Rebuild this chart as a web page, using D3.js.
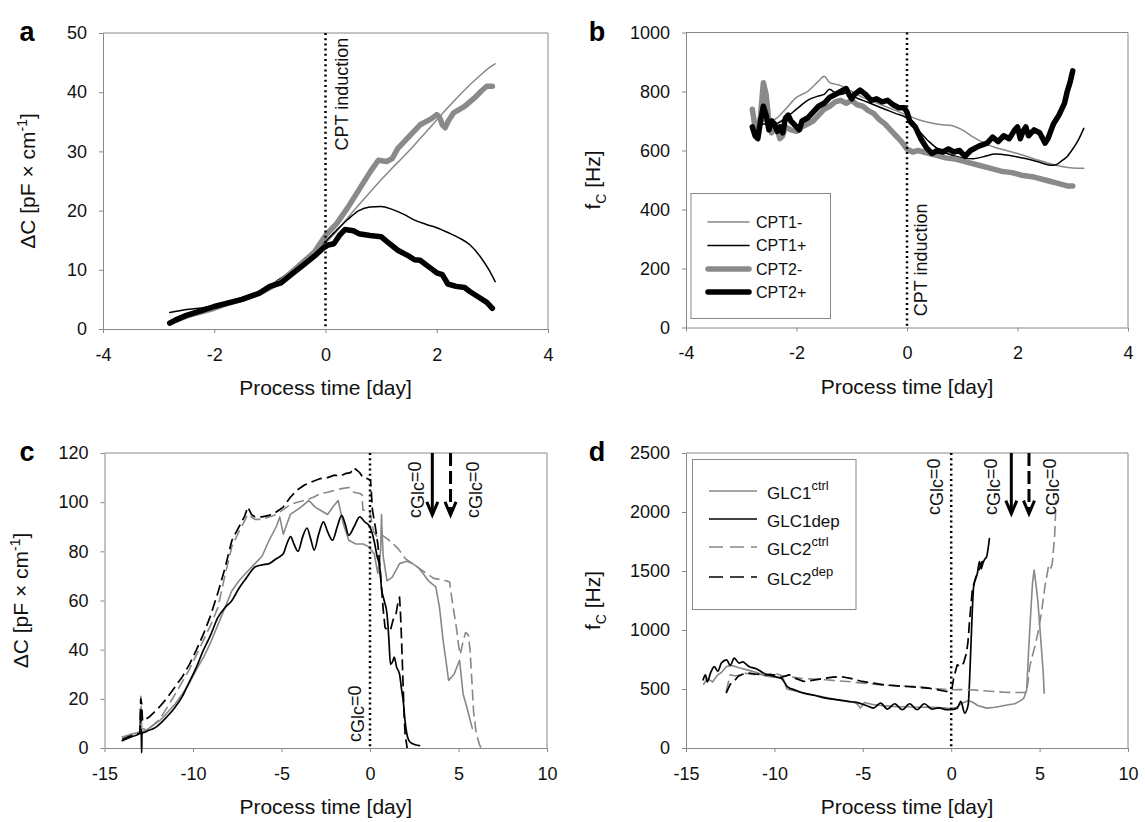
<!DOCTYPE html>
<html>
<head>
<meta charset="utf-8">
<script src="https://cdn.jsdelivr.net/npm/d3@7"></script>
<style>
  body { margin: 0; background: #fff; }
  svg { font-family: "Liberation Sans", Arial, sans-serif; }
  .axis path, .axis line { stroke: #888; }
  .axis text { font-size: 18px; fill: #111; }
</style>
</head>
<body>
<svg id="fig" width="1145" height="822"></svg>
<script>
// ---- panel a : delta C vs process time (CPT runs) ----
const cpt1MinusA = [[-2.8,1.0],[-2.6,1.8],[-2.4,2.6],[-2.2,3.2],[-2.0,3.8],[-1.8,4.3],[-1.6,4.9],[-1.4,5.6],[-1.2,6.4],[-1.0,7.3],[-0.8,8.4],[-0.6,9.6],[-0.4,11.0],[-0.2,12.6],[0,14.5],[0.2,16.5],[0.4,18.8],[0.6,21.0],[0.8,23.1],[1.0,25.2],[1.2,27.2],[1.4,29.1],[1.6,31.1],[1.8,33.2],[2.0,35.3],[2.2,37.4],[2.4,39.4],[2.6,41.3],[2.8,43.0],[2.95,44.2],[3.05,44.8]];
const cpt1PlusA = [[-2.8,2.8],[-2.5,3.3],[-2.2,3.6],[-2.0,4.0],[-1.7,4.7],[-1.4,5.5],[-1.2,6.3],[-1.0,7.3],[-0.8,8.6],[-0.6,9.9],[-0.4,11.3],[-0.2,12.9],[0,14.8],[0.2,16.7],[0.4,18.5],[0.6,20.0],[0.8,20.6],[1.0,20.7],[1.2,20.2],[1.4,19.4],[1.6,18.4],[1.8,17.7],[2.0,17.1],[2.2,16.3],[2.4,15.4],[2.6,14.2],[2.8,12.0],[2.95,9.8],[3.05,8.0]];
const cpt2MinusA = [[-2.8,1.0],[-2.5,2.2],[-2.2,3.0],[-2.0,3.5],[-1.8,4.2],[-1.5,5.0],[-1.2,6.0],[-1.0,7.0],[-0.8,8.0],[-0.5,10.5],[-0.2,13.0],[0,15.8],[0.2,17.8],[0.4,20.5],[0.6,23.5],[0.8,26.5],[0.95,28.5],[1.1,28.3],[1.2,28.8],[1.3,30.5],[1.5,32.5],[1.7,34.5],[1.9,35.5],[2.0,36.2],[2.05,35.8],[2.1,34.5],[2.15,34.0],[2.2,35.0],[2.3,36.5],[2.5,37.6],[2.7,39.2],[2.8,40.2],[2.9,41.0],[3.0,41.0]];
const cpt2PlusA = [[-2.8,1.0],[-2.7,1.5],[-2.5,2.3],[-2.2,3.2],[-2.0,3.8],[-1.8,4.3],[-1.5,5.0],[-1.2,6.0],[-1.0,7.2],[-0.8,7.8],[-0.6,9.3],[-0.4,10.8],[-0.2,12.3],[-0.05,13.6],[0.05,14.2],[0.15,14.4],[0.25,15.8],[0.35,16.8],[0.5,16.6],[0.6,16.1],[0.8,15.8],[1.0,15.6],[1.1,14.8],[1.3,13.3],[1.5,12.3],[1.6,11.7],[1.7,11.6],[1.9,10.2],[2.0,9.5],[2.1,9.2],[2.2,7.6],[2.35,7.2],[2.5,7.0],[2.6,6.3],[2.75,5.4],[2.9,4.5],[3.0,3.5]];

// ---- panel b : fc vs process time (CPT runs) ----
const cpt1MinusB = [[-2.8,700],[-2.6,700],[-2.4,705],[-2.2,740],[-2.0,780],[-1.8,800],[-1.6,835],[-1.5,852],[-1.4,830],[-1.3,825],[-1.2,820],[-1.0,800],[-0.8,780],[-0.6,765],[-0.4,750],[-0.2,735],[0,720],[0.2,705],[0.4,695],[0.6,688],[0.8,685],[1.0,670],[1.2,645],[1.4,625],[1.6,610],[1.8,600],[2.0,590],[2.2,578],[2.4,566],[2.6,555],[2.8,546],[3.0,541],[3.2,540]];
const cpt1PlusB = [[-2.8,680],[-2.6,690],[-2.4,690],[-2.2,710],[-2.0,740],[-1.8,770],[-1.6,785],[-1.5,790],[-1.4,808],[-1.3,795],[-1.2,790],[-1.1,795],[-1.0,785],[-0.8,770],[-0.6,755],[-0.4,740],[-0.2,725],[0,710],[0.2,670],[0.4,630],[0.6,600],[0.8,585],[1.0,575],[1.2,572],[1.4,580],[1.6,588],[1.8,585],[2.0,578],[2.2,570],[2.4,560],[2.6,550],[2.7,552],[2.8,565],[2.9,580],[3.0,605],[3.1,635],[3.2,675]];
const cpt2MinusB = [[-2.8,740],[-2.75,680],[-2.7,660],[-2.65,720],[-2.6,830],[-2.55,790],[-2.5,700],[-2.45,660],[-2.4,690],[-2.35,670],[-2.3,640],[-2.25,650],[-2.2,680],[-2.1,670],[-2.0,665],[-1.9,680],[-1.8,690],[-1.7,700],[-1.6,720],[-1.5,740],[-1.4,750],[-1.3,765],[-1.2,770],[-1.1,760],[-1.0,770],[-0.9,755],[-0.8,750],[-0.7,735],[-0.6,725],[-0.5,705],[-0.4,690],[-0.3,670],[-0.2,650],[-0.1,630],[0,605],[0.1,595],[0.2,600],[0.3,595],[0.5,585],[0.7,575],[0.9,570],[1.1,560],[1.3,550],[1.5,540],[1.7,530],[1.9,525],[2.1,515],[2.3,510],[2.5,500],[2.6,495],[2.7,490],[2.8,485],[2.9,480],[3.0,480]];
const cpt2PlusB = [[-2.8,680],[-2.75,650],[-2.7,640],[-2.65,700],[-2.6,750],[-2.55,720],[-2.5,670],[-2.45,700],[-2.4,690],[-2.35,665],[-2.3,680],[-2.25,660],[-2.2,710],[-2.15,720],[-2.1,700],[-2.0,680],[-1.95,670],[-1.9,700],[-1.8,710],[-1.7,730],[-1.6,750],[-1.5,760],[-1.4,780],[-1.3,790],[-1.2,800],[-1.1,810],[-1.05,790],[-1.0,775],[-0.95,790],[-0.85,805],[-0.75,790],[-0.65,770],[-0.55,775],[-0.45,765],[-0.35,770],[-0.25,755],[-0.15,745],[-0.05,745],[0,730],[0.05,700],[0.15,680],[0.25,640],[0.35,610],[0.45,590],[0.55,600],[0.65,595],[0.75,605],[0.85,595],[0.95,600],[1.05,580],[1.15,600],[1.3,615],[1.45,625],[1.55,645],[1.65,630],[1.75,650],[1.85,640],[1.95,670],[2.0,680],[2.05,640],[2.1,665],[2.15,680],[2.2,650],[2.3,670],[2.4,660],[2.5,625],[2.55,640],[2.65,690],[2.75,720],[2.85,760],[2.9,800],[2.95,830],[3.0,870]];

// ---- panel c : delta C vs process time (glucose runs) ----
const glc1CtrlC = [[-14,4.5],[-13.3,6],[-12.7,7],[-12.3,9],[-11.9,11],[-11.5,14],[-11,18],[-10.6,22],[-10.2,26.5],[-9.8,32],[-9.4,37],[-9.0,43],[-8.6,50],[-8.2,57],[-7.8,64],[-7.4,68],[-6.9,72],[-6.5,75],[-6.1,78],[-5.7,84.5],[-5.3,90],[-5.1,94],[-4.9,87],[-4.7,91],[-4.5,95],[-3.9,98],[-3.45,100.7],[-3.1,98],[-2.8,96.7],[-2.4,95],[-2.1,98],[-1.8,100.7],[-1.5,91],[-1.2,84.5],[-0.8,83],[-0.38,83],[-0.07,81.8],[0.24,79],[0.44,71],[0.6,80],[0.65,95],[0.7,85],[0.75,77.7],[0.96,68],[1.26,69.5],[1.67,75],[2.08,76],[2.4,75],[2.7,73.6],[3.0,71],[3.3,68],[3.72,65.5],[3.93,57],[4.13,43.8],[4.3,35],[4.44,27.5],[4.75,30],[5.06,35.7],[5.26,22],[5.47,16.7],[5.67,11],[5.78,8]];
const glc1DepC = [[-14,3],[-13.5,4.5],[-13.0,6],[-12.95,16],[-12.92,5],[-12.9,-2],[-12.88,6],[-12.7,6.5],[-12.5,7.2],[-12.2,8],[-12,9],[-11.5,12.5],[-11,16.7],[-10.6,21],[-10.2,27],[-9.8,33],[-9.4,40],[-9.0,46],[-8.6,53],[-8.2,57],[-7.8,60],[-7.4,65],[-7.0,69],[-6.5,73.6],[-6.1,74.5],[-5.7,75],[-5.3,77],[-4.9,79],[-4.7,83],[-4.48,86],[-4.3,83],[-4.07,80],[-3.8,86],[-3.56,89.5],[-3.35,85],[-3.15,80.5],[-2.9,87],[-2.63,92],[-2.4,88],[-2.12,84.5],[-1.85,90],[-1.6,94.6],[-1.4,91],[-1.2,86.5],[-0.9,90],[-0.58,94],[-0.3,92],[-0.07,90.6],[0.1,88],[0.24,84],[0.4,78],[0.55,73.6],[0.65,65],[0.8,60],[0.96,54.6],[1.06,45],[1.16,34],[1.27,35],[1.37,37],[1.5,33],[1.67,30],[1.78,24],[1.88,19],[1.98,11],[2.08,5.8],[2.2,3],[2.39,1.8],[2.6,1.2],[2.8,1]];
const glc2CtrlC = [[-14,3.8],[-13.5,5.5],[-13,6.5],[-12.95,21],[-12.9,8],[-12.7,7.5],[-12.3,9],[-11.9,11.5],[-11.5,16],[-11,22],[-10.6,27],[-10.2,32],[-9.8,38],[-9.4,44],[-9.0,50],[-8.6,57],[-8.2,70],[-7.8,82],[-7.4,88],[-6.9,95],[-6.5,93],[-6.1,93],[-5.7,94],[-5.3,95],[-4.9,97],[-4.5,99],[-4.1,100],[-3.7,100.7],[-3.2,102],[-2.8,103.5],[-2.4,104],[-2.0,104.8],[-1.6,105.5],[-1.2,106],[-0.9,104],[-0.58,103.5],[-0.45,103],[-0.4,96.7],[-0.2,97],[0.0,96],[0.1,92],[0.2,88],[0.4,86],[0.6,87],[0.8,86],[1.0,85],[1.3,83],[1.6,81],[2.0,77],[2.4,75],[2.8,73],[3.2,71],[3.6,69],[4.0,68.5],[4.3,68],[4.5,67.5],[4.6,62],[4.75,55],[4.9,48],[5.0,42],[5.1,38],[5.25,43],[5.4,47],[5.55,46],[5.65,40],[5.75,28],[5.85,15],[6.0,6],[6.2,1],[6.3,0]];
const glc2DepC = [[-14,3.4],[-13.5,5],[-13.0,6],[-12.95,20],[-12.9,18],[-12.85,11],[-12.5,12.5],[-12.2,14.5],[-11.9,16.7],[-11.5,20],[-11,25],[-10.6,29],[-10.2,34],[-9.8,40],[-9.4,46.5],[-9.0,54],[-8.6,63],[-8.2,73],[-7.8,84.5],[-7.4,90],[-7.1,94],[-6.9,98],[-6.7,95],[-6.5,94],[-6.1,94],[-5.7,94.6],[-5.3,96],[-4.9,98],[-4.5,102],[-4.1,105],[-3.7,107],[-3.2,108.5],[-2.8,109.6],[-2.4,110],[-2.0,111],[-1.7,110.5],[-1.4,111.6],[-1.1,112],[-0.9,114],[-0.75,113],[-0.58,112],[-0.4,110],[-0.17,109.6],[0.03,109],[0.14,96.7],[0.3,90],[0.44,83],[0.55,75],[0.65,65],[0.75,56],[0.85,49],[1.0,48],[1.16,48],[1.3,52],[1.47,54.6],[1.6,60],[1.67,61.4],[1.72,55],[1.77,46.5],[1.85,30],[1.92,15],[1.98,5.8],[2.1,0]];

// ---- panel d : fc vs process time (glucose runs) ----
const glc1CtrlD = [[-14,540],[-13.8,590],[-13.5,560],[-13.2,620],[-13,640],[-12.7,690],[-12.4,700],[-12,680],[-11.5,660],[-11,640],[-10.5,610],[-10,600],[-9.5,590],[-9.3,500],[-9,490],[-8.5,470],[-8,455],[-7.5,440],[-7,425],[-6.5,410],[-6,400],[-5.5,385],[-5.3,370],[-5.14,338],[-4.9,385],[-4.5,370],[-4,360],[-3.5,355],[-3,350],[-2.5,350],[-2,345],[-1.5,345],[-1,345],[-0.5,340],[0,335],[0.3,345],[0.6,380],[0.96,400],[1.2,390],[1.5,360],[2.0,338],[2.5,345],[3.0,360],[3.24,366],[3.6,375],[3.86,395],[4.1,420],[4.27,493],[4.38,830],[4.5,1150],[4.6,1400],[4.69,1508],[4.8,1380],[4.9,1250],[5.0,1050],[5.1,850],[5.2,650],[5.26,465]];
const glc1DepD = [[-14.03,578],[-13.9,620],[-13.8,560],[-13.6,640],[-13.4,690],[-13.2,650],[-13.0,720],[-12.7,747],[-12.5,700],[-12.27,761],[-12.0,720],[-11.8,730],[-11.44,690],[-11.0,670],[-10.6,634],[-10.3,620],[-10,606],[-9.6,590],[-9.27,521],[-8.8,490],[-8.34,465],[-7.7,445],[-7.1,423],[-6.5,410],[-5.86,395],[-5.3,385],[-4.8,360],[-4.4,338],[-4,380],[-3.6,330],[-3.2,375],[-2.76,324],[-2.35,375],[-1.93,324],[-1.52,375],[-1.1,330],[-0.7,340],[-0.3,325],[-0.07,324],[0.34,338],[0.55,395],[0.76,296],[0.96,366],[1.07,690],[1.15,1000],[1.27,1367],[1.48,1480],[1.6,1580],[1.7,1520],[1.79,1564],[1.9,1600],[2.0,1620],[2.16,1775]];
const glc2CtrlD = [[-12.73,480],[-12.5,620],[-12.2,610],[-11.65,634],[-11,620],[-10.5,625],[-10,634],[-9.6,615],[-9.17,606],[-8.5,590],[-7.8,585],[-7.1,578],[-6.5,570],[-5.86,564],[-5,550],[-4.0,535],[-3,528],[-1.93,521],[-1,505],[-0.07,493],[0.5,495],[1.17,493],[1.8,485],[2.41,479],[3.0,473],[3.65,470],[4.27,470],[4.44,690],[4.58,775],[4.75,870],[4.9,972],[5.1,1141],[5.3,1367],[5.5,1536],[5.6,1510],[5.72,1564],[5.85,1800],[5.93,2100]];
const glc2DepD = [[-12.73,465],[-12.5,540],[-12.3,560],[-12.06,606],[-11.8,625],[-11.44,634],[-11,625],[-10.5,620],[-10,620],[-9.6,600],[-9.17,620],[-8.8,590],[-8.34,564],[-7.8,575],[-7.1,592],[-6.7,600],[-6.27,606],[-5.7,590],[-5.03,564],[-4.4,550],[-3.8,535],[-3.2,528],[-2.55,521],[-1.9,515],[-1.31,507],[-0.8,495],[-0.28,479],[0.03,493],[0.14,592],[0.34,705],[0.55,690],[0.7,720],[0.86,803],[0.95,900],[1.05,1100],[1.2,1350],[1.4,1450],[1.6,1520],[1.75,1580],[1.9,1564]];

// tick values
const xTicksCpt = [-4, -2, 0, 2, 4];
const xTicksGlc = [-15, -10, -5, 0, 5, 10];
const yTicksA = [0, 10, 20, 30, 40, 50];
const yTicksB = [0, 200, 400, 600, 800, 1000];
const yTicksC = [0, 20, 40, 60, 80, 100, 120];
const yTicksD = [0, 500, 1000, 1500, 2000, 2500];

// legend names
const cptNames = ['CPT1-', 'CPT1+', 'CPT2-', 'CPT2+'];
const glcNames = [['GLC1', 'ctrl'], ['GLC1dep', ''], ['GLC2', 'ctrl'], ['GLC2', 'dep']];

// glucose depletion markers: text x (day), arrow x (day)
const glcTextC = [-0.89, 2.5, 5.78];
const glcTextD = [-1.0, 2.25, 5.55];
const glcArrowsC = [3.52, 4.55];
const glcArrowsD = [3.4, 4.4];

const GRAY = '#888', BLACK = '#000';
const cptStyles = [
  {color: GRAY, width: 1.5, smooth: true},
  {color: BLACK, width: 1.5, smooth: true},
  {color: '#8a8a8a', width: 5.5},
  {color: BLACK, width: 5.5}
];
const glcStyles = [
  {color: GRAY, width: 1.6, dash: null},
  {color: BLACK, width: 1.7, dash: null, smooth: true},
  {color: GRAY, width: 1.6, dash: '11,5'},
  {color: BLACK, width: 1.7, dash: '11,5'}
];

const svg = d3.select('#fig');

function drawPanel(cfg) {
  const x = d3.scaleLinear().domain(cfg.xDomain).range([cfg.left, cfg.right]);
  const y = d3.scaleLinear().domain(cfg.yDomain).range([cfg.bottom, cfg.top]);
  const g = svg.append('g');

  // top + right frame
  g.append('path')
      .attr('d', `M${cfg.left},${cfg.top}H${cfg.right}V${cfg.bottom}`)
      .attr('fill', 'none').attr('stroke', '#888');

  g.append('g').attr('class', 'axis')
      .attr('transform', `translate(${cfg.left},0)`)
      .call(d3.axisLeft(y).tickValues(cfg.yTicks).tickFormat(d => String(d))
        .tickSizeInner(4).tickSizeOuter(0).tickPadding(12));

  g.append('g').attr('class', 'axis')
      .attr('transform', `translate(0,${cfg.bottom})`)
      .call(d3.axisBottom(x).tickValues(cfg.xTicks).tickFormat(d => String(d))
        .tickSizeInner(4).tickSizeOuter(0).tickPadding(15));

  cfg.series.forEach((s, i) => {
    const st = cfg.styles[i];
    const line = d3.line().x(d => x(d[0])).y(d => y(d[1]))
        .curve(st.smooth ? d3.curveMonotoneX : d3.curveLinear);
    g.append('path')
        .datum(s)
        .attr('d', line)
        .attr('fill', 'none')
        .attr('stroke', st.color)
        .attr('stroke-width', st.width)
        .attr('stroke-linejoin', 'round')
        .attr('stroke-linecap', st.dash ? 'butt' : 'round')
        .attr('stroke-dasharray', st.dash);
  });

  // dotted line at day 0
  g.append('line')
      .attr('x1', x(0)).attr('x2', x(0))
      .attr('y1', cfg.top).attr('y2', cfg.bottom)
      .attr('stroke', BLACK).attr('stroke-width', 2.5)
      .attr('stroke-dasharray', '2,3.2');

  // panel letter
  svg.append('text')
      .attr('x', cfg.letterX).attr('y', cfg.top - 1)
      .attr('text-anchor', 'middle')
      .attr('dominant-baseline', 'central')
      .style('font-size', '27px').style('font-weight', 'bold')
      .text(cfg.letter);

  // x title
  svg.append('text')
      .attr('x', (cfg.left + cfg.right) / 2).attr('y', cfg.bottom + 66)
      .attr('text-anchor', 'middle')
      .style('font-size', '21px').attr('fill', '#111')
      .text('Process time [day]');

  // y title
  const yt = svg.append('text')
      .attr('transform', `translate(${cfg.left - cfg.yTitleOffset},${(cfg.top + cfg.bottom) / 2}) rotate(-90)`)
      .attr('text-anchor', 'middle')
      .style('font-size', '21px').attr('fill', '#111');
  cfg.yTitle(yt);

  return {x, y, g};
}

function deltaCTitle(t) {
  t.append('tspan').text('\u0394C [pF \u00d7 cm');
  t.append('tspan').attr('dy', -8).style('font-size', '14px').text('-1');
  t.append('tspan').attr('dy', 8).text(']');
}
function fcTitle(t) {
  t.append('tspan').text('f');
  t.append('tspan').attr('dy', 6).style('font-size', '14px').text('C');
  t.append('tspan').attr('dy', -6).text(' [Hz]');
}

function cptText(p, xv, yv, anchor) {
  p.g.append('text')
      .attr('transform', `translate(${p.x(xv)},${p.y(yv)}) rotate(-90)`)
      .attr('text-anchor', anchor)
      .attr('dy', '0.36em')
      .style('font-size', '18px').attr('fill', '#111')
      .text('CPT induction');
}

function glcText(p, xv, yPix) {
  const t = p.g.append('text')
      .attr('transform', `translate(${p.x(xv)},${yPix}) rotate(-90)`)
      .attr('dy', '0.36em')
      .style('font-size', '18px').attr('fill', '#111');
  t.append('tspan').text('c');
  t.append('tspan').attr('dy', 3).text('Glc');
  t.append('tspan').attr('dy', -3).text('=0');
}

function glcArrow(p, xv, yTip, dashed) {
  const xp = p.x(xv), yp = p.y(yTip);
  p.g.append('line')
      .attr('x1', xp).attr('x2', xp)
      .attr('y1', p.y.range()[1]).attr('y2', yp - 2)
      .attr('stroke', BLACK).attr('stroke-width', 3)
      .attr('stroke-dasharray', dashed ? '13,5' : null);
  p.g.append('path')
      .attr('d', `M${xp - 5.5},${yp - 13}L${xp},${yp}L${xp + 5.5},${yp - 13}`)
      .attr('fill', 'none').attr('stroke', BLACK).attr('stroke-width', 3)
      .attr('stroke-linejoin', 'miter');
}

// ---------- panel a ----------
const pa = drawPanel({
  letter: 'a', letterX: 27,
  left: 103, right: 548, top: 33, bottom: 329,
  xDomain: [-4, 4], yDomain: [0, 50], xTicks: xTicksCpt, yTicks: yTicksA,
  series: [cpt1MinusA, cpt1PlusA, cpt2MinusA, cpt2PlusA], styles: cptStyles,
  yTitle: deltaCTitle, yTitleOffset: 68
});
cptText(pa, 0.29, 49.2, 'end');

// ---------- panel b ----------
const pb = drawPanel({
  letter: 'b', letterX: 597,
  left: 686, right: 1128, top: 32.5, bottom: 327.5,
  xDomain: [-4, 4], yDomain: [0, 1000], xTicks: xTicksCpt, yTicks: yTicksB,
  series: [cpt1MinusB, cpt1PlusB, cpt2MinusB, cpt2PlusB], styles: cptStyles,
  yTitle: fcTitle, yTitleOffset: 86
});
cptText(pb, 0.25, 38, 'start');

// legend b
(function () {
  const lg = svg.append('g');
  lg.append('rect').attr('x', 691).attr('y', 193.5).attr('width', 139.5).attr('height', 125)
      .attr('fill', '#fff').attr('stroke', '#888');
  const rows = [222, 245.5, 269, 292];
  cptNames.forEach((n, i) => {
    const st = cptStyles[i];
    lg.append('line').attr('x1', 708).attr('x2', 749).attr('y1', rows[i]).attr('y2', rows[i])
        .attr('stroke', st.color).attr('stroke-width', st.width).attr('stroke-linecap', 'round');
    lg.append('text').attr('x', 756).attr('y', rows[i]).attr('dy', '0.36em')
        .style('font-size', '16px').attr('fill', '#111').text(n);
  });
})();

// ---------- panel c ----------
const pc = drawPanel({
  letter: 'c', letterX: 27,
  left: 104.5, right: 547, top: 453, bottom: 748,
  xDomain: [-15, 10], yDomain: [0, 120], xTicks: xTicksGlc, yTicks: yTicksC,
  series: [glc1CtrlC, glc1DepC, glc2CtrlC, glc2DepC], styles: glcStyles,
  yTitle: deltaCTitle, yTitleOffset: 77
});
glcText(pc, glcTextC[0], 742);
glcText(pc, glcTextC[1], 518);
glcText(pc, glcTextC[2], 518);
glcArrow(pc, glcArrowsC[0], 94.8, false);
glcArrow(pc, glcArrowsC[1], 94.8, true);

// ---------- panel d ----------
const pd = drawPanel({
  letter: 'd', letterX: 597,
  left: 686, right: 1128, top: 453, bottom: 748,
  xDomain: [-15, 10], yDomain: [0, 2500], xTicks: xTicksGlc, yTicks: yTicksD,
  series: [glc1CtrlD, glc1DepD, glc2CtrlD, glc2DepD], styles: glcStyles,
  yTitle: fcTitle, yTitleOffset: 86
});
glcText(pd, glcTextD[0], 515);
glcText(pd, glcTextD[1], 515);
glcText(pd, glcTextD[2], 515);
glcArrow(pd, glcArrowsD[0], 1986, false);
glcArrow(pd, glcArrowsD[1], 1986, true);

// legend d
(function () {
  const lg = svg.append('g');
  lg.append('rect').attr('x', 692.5).attr('y', 459.5).attr('width', 163.5).attr('height', 150)
      .attr('fill', '#fff').attr('stroke', '#888');
  const rows = [491, 519, 547, 577];
  glcNames.forEach((n, i) => {
    const st = glcStyles[i];
    lg.append('line').attr('x1', 709).attr('x2', 757).attr('y1', rows[i]).attr('y2', rows[i])
        .attr('stroke', st.color).attr('stroke-width', st.width)
        .attr('stroke-dasharray', st.dash ? '14,7' : null);
    const t = lg.append('text').attr('x', 767).attr('y', rows[i] + 8)
        .style('font-size', '17px').attr('fill', '#111');
    t.append('tspan').text(n[0]);
    if (n[1]) t.append('tspan').attr('dy', -9).style('font-size', '13px').text(n[1]);
  });
})();
</script>
</body>
</html>
